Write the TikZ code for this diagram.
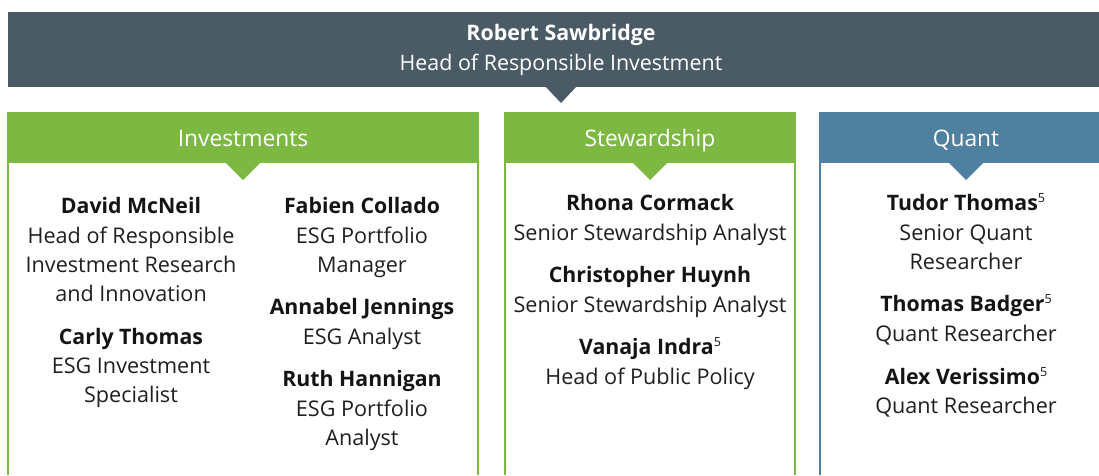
\documentclass[tikz,border=0pt]{standalone}
\usepackage{fontspec}
\setmainfont{Open Sans}
\definecolor{slate}{HTML}{4B5B66}
\definecolor{grn}{HTML}{7DB843}
\definecolor{blu}{HTML}{4F809F}
\newcommand{\supfive}{\raisebox{0.36em}{\fontsize{12.5}{13}\selectfont\mdseries 5}}
\begin{document}
\begin{tikzpicture}[x=1pt,y=-1pt,
  hdr/.style={font=\fontsize{22.8}{26}\selectfont, text=white, inner sep=0pt, anchor=base},
  top/.style={font=\fontsize{21.4}{26}\selectfont, text=white, inner sep=0pt, anchor=base},
  nm/.style={font=\fontsize{21.3}{26}\selectfont\bfseries, text=black!92, inner sep=0pt, anchor=base},
  rl/.style={font=\fontsize{21.6}{26}\selectfont, text=black!88, inner sep=0pt, anchor=base},
  edge/.style={line width=1.3pt}]
\useasboundingbox (0,0) rectangle (1099,475);
% top bar
\fill[slate] (8,12) rectangle (1099,87);
\fill[slate] (545,86) -- (577,86) -- (561,103) -- cycle;
\node[top,font=\fontsize{21.4}{26}\selectfont\bfseries] (rs) at (561,40) {Robert Sawbridge};
\node[top] (rsr) at (561,70) {Head of Responsible Investment};
% columns
\draw[edge,grn] (8,475) -- (8,113) -- (478,113) -- (478,475);
\fill[grn] (8,113) rectangle (478,163);
\fill[grn] (225,162) -- (261,162) -- (243,180) -- cycle;
\node[hdr] (inv) at (243,146) {Investments};

\draw[edge,grn] (505,475) -- (505,113) -- (795,113) -- (795,475);
\fill[grn] (505,113) rectangle (795,163);
\fill[grn] (632,162) -- (668,162) -- (650,180) -- cycle;
\node[hdr] (stw) at (650,146) {Stewardship};

\draw[edge,blu] (820,475) -- (820,113) -- (1105,113);
\fill[blu] (820,113) rectangle (1105,163);
\fill[blu] (948,162) -- (984,162) -- (966,180) -- cycle;
\node[hdr] (qnt) at (966,146) {Quant};

% Investments col 1
\node[nm] (a1) at (131,213) {David McNeil};
\node[rl] (a2) at (131,243) {Head of Responsible};
\node[rl] (a3) at (131,272) {Investment Research};
\node[rl] (a4) at (131,301) {and Innovation};
\node[nm] (a5) at (131,344) {Carly Thomas};
\node[rl] (a6) at (131,373) {ESG Investment};
\node[rl] (a7) at (131,402) {Specialist};
% Investments col 2
\node[nm] (b1) at (362,213) {Fabien Collado};
\node[rl] (b2) at (362,243) {ESG Portfolio};
\node[rl] (b3) at (362,272) {Manager};
\node[nm] (b4) at (362,314) {Annabel Jennings};
\node[rl] (b5) at (362,344) {ESG Analyst};
\node[nm] (b6) at (362,386) {Ruth Hannigan};
\node[rl] (b7) at (362,416) {ESG Portfolio};
\node[rl] (b8) at (362,445) {Analyst};
% Stewardship
\node[nm] (c1) at (650,210) {Rhona Cormack};
\node[rl] (c2) at (650,240) {Senior Stewardship Analyst};
\node[nm] (c3) at (650,282) {Christopher Huynh};
\node[rl] (c4) at (650,312) {Senior Stewardship Analyst};
\node[nm] (c5) at (650,354) {Vanaja Indra\supfive};
\node[rl] (c6) at (650,384) {Head of Public Policy};
% Quant
\node[nm] (d1) at (966,210) {Tudor Thomas\supfive};
\node[rl] (d2) at (966,240) {Senior Quant};
\node[rl] (d3) at (966,269) {Researcher};
\node[nm] (d4) at (966,311) {Thomas Badger\supfive};
\node[rl] (d5) at (966,341) {Quant Researcher};
\node[nm] (d6) at (966,384) {Alex Verissimo\supfive};
\node[rl] (d7) at (966,413) {Quant Researcher};
\end{tikzpicture}
\end{document}
